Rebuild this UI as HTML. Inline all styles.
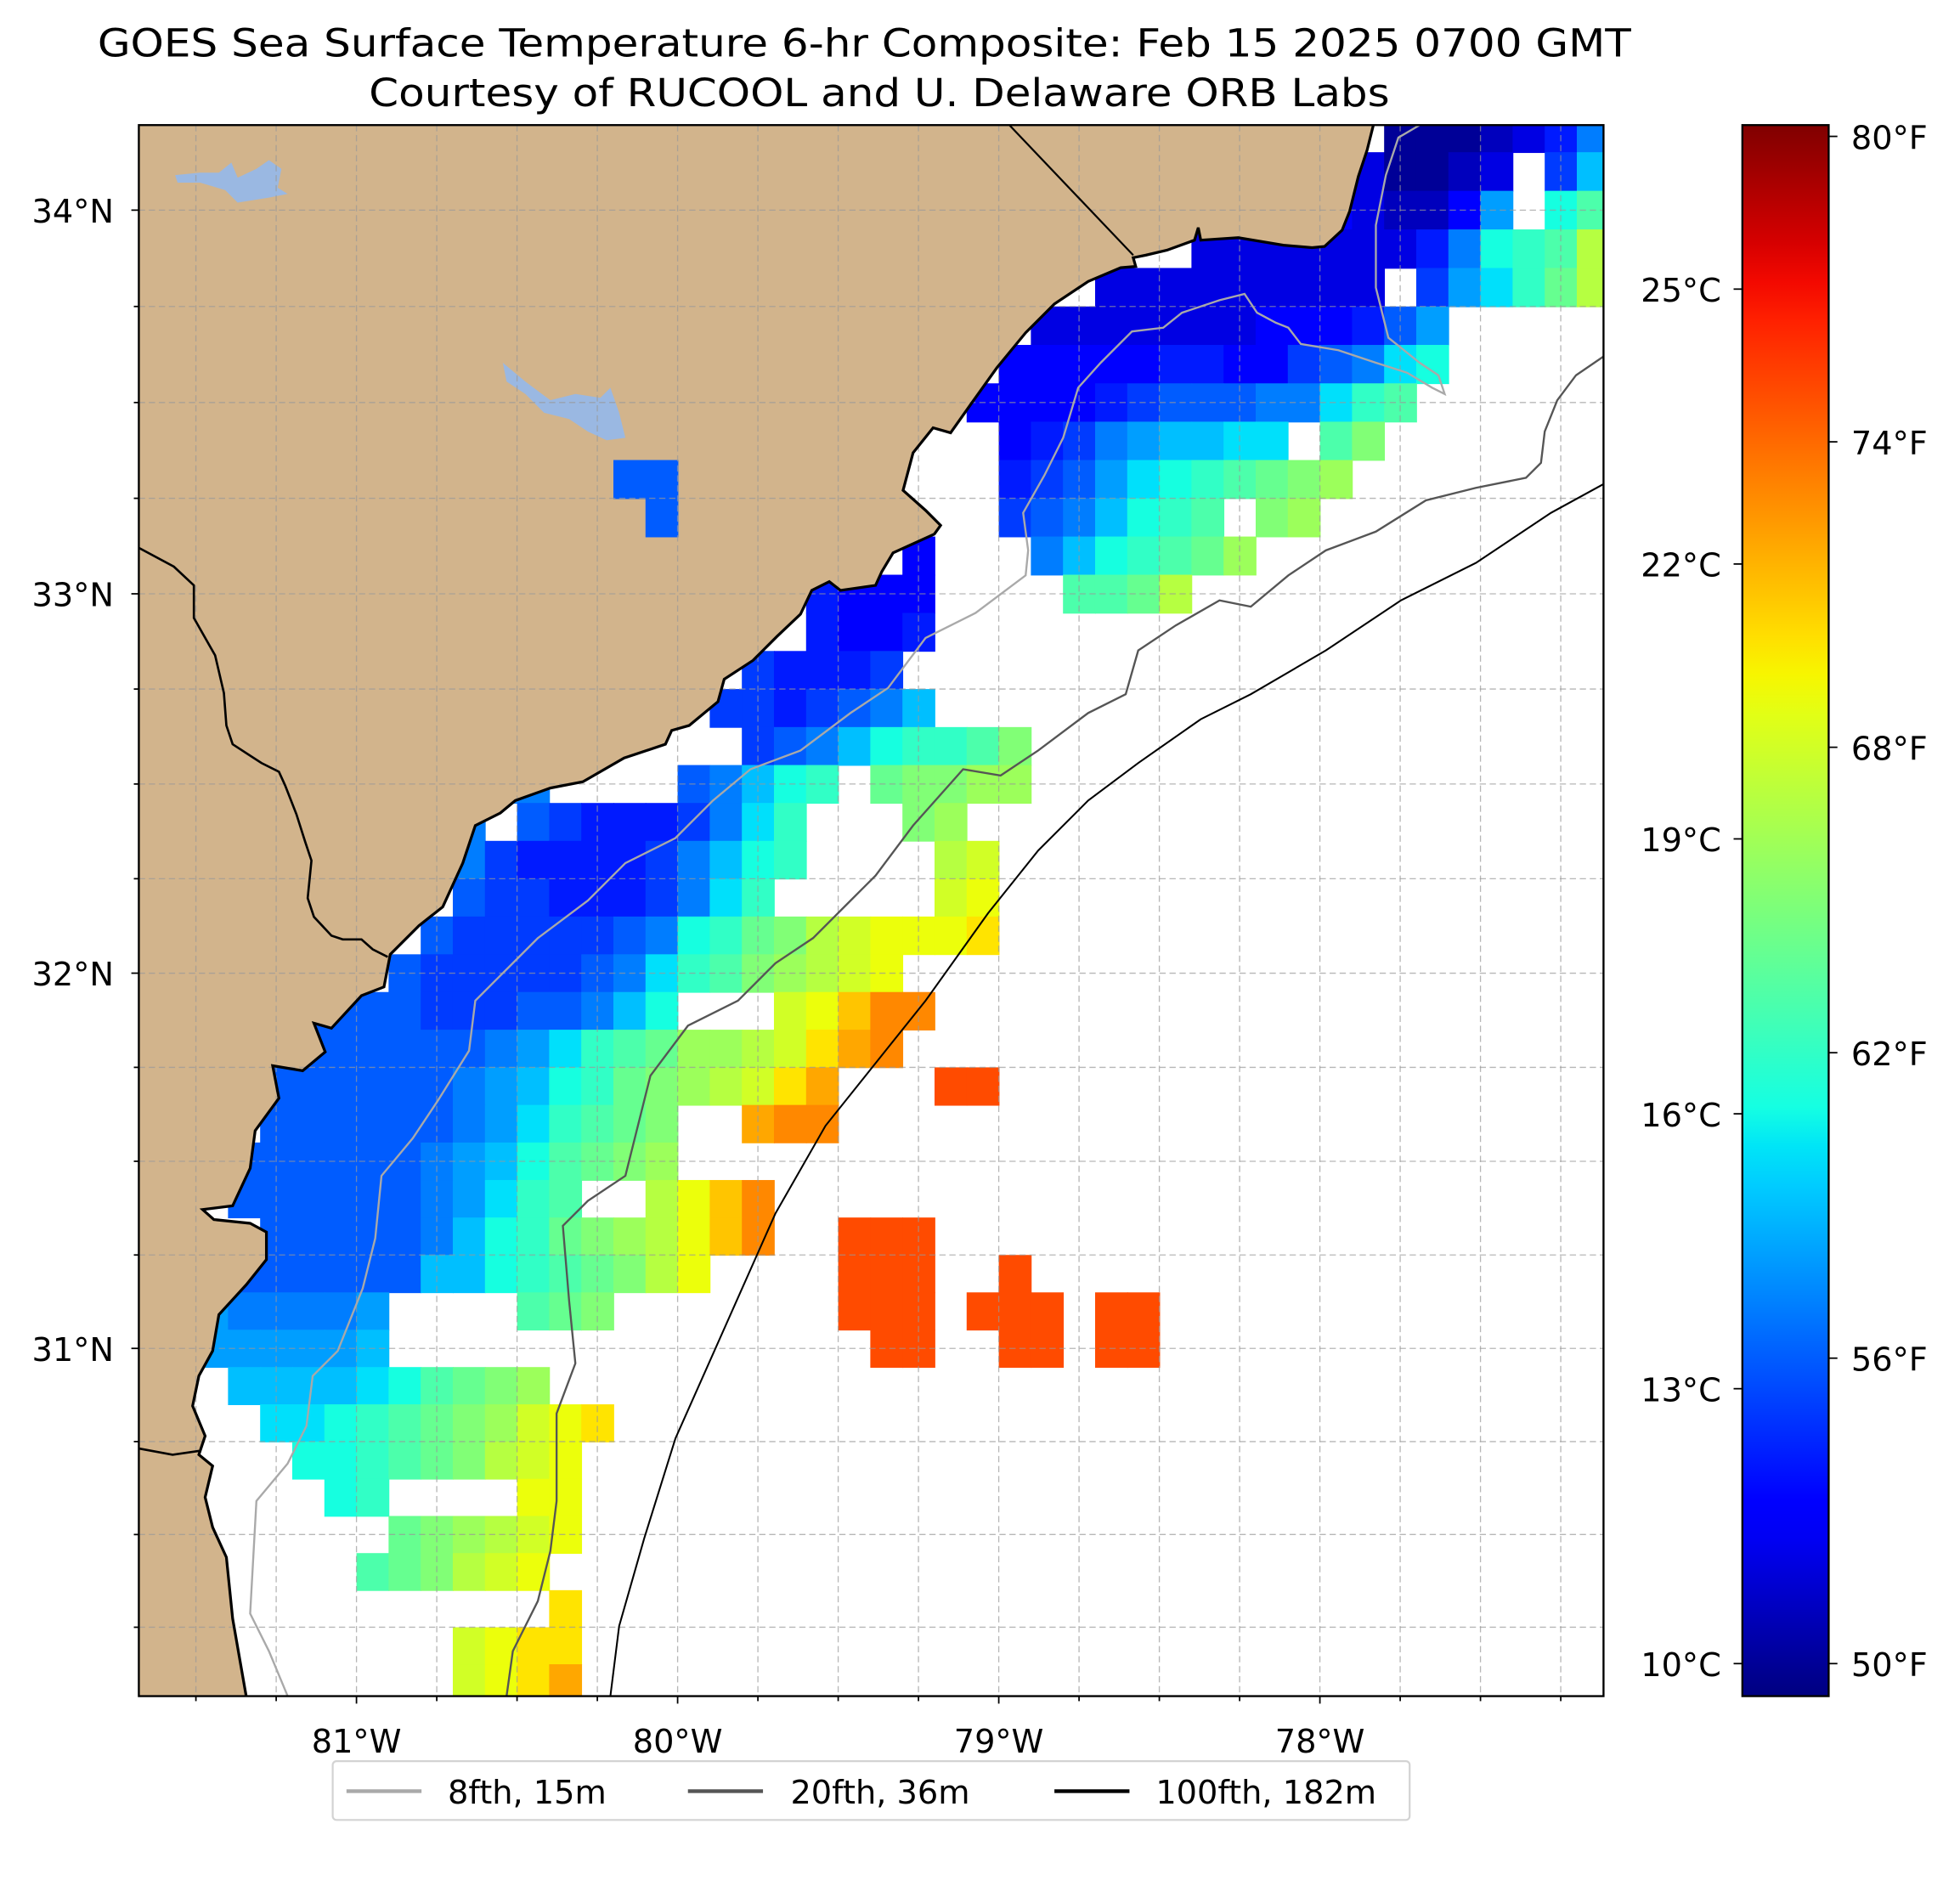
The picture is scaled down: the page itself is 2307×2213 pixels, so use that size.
<!DOCTYPE html>
<html><head><meta charset="utf-8"><title>GOES SST Composite</title>
<style>html,body{margin:0;padding:0;background:#fff}svg{display:block}text{font-family:"DejaVu Sans","Liberation Sans",sans-serif;fill:#000}</style>
</head><body>
<svg id="fig" xmlns="http://www.w3.org/2000/svg" width="2307" height="2213" viewBox="0 0 1567 1503" preserveAspectRatio="none">
<defs>
<clipPath id="plotclip"><rect x="111" y="100" width="1171" height="1256"/></clipPath>
<linearGradient id="jetgrad" x1="0" y1="1" x2="0" y2="0"></linearGradient>
</defs>
<text x="691" y="45" font-size="31" text-anchor="middle" textLength="1226" lengthAdjust="spacingAndGlyphs">GOES Sea Surface Temperature 6-hr Composite: Feb 15 2025 0700 GMT</text>
<text x="703" y="85" font-size="31" text-anchor="middle" textLength="816" lengthAdjust="spacingAndGlyphs">Courtesy of RUCOOL and U. Delaware ORB Labs</text>
<g id="mapg" clip-path="url(#plotclip)">
<rect x="111" y="100" width="1171" height="1256" fill="#fff"/>
<g id="cells"></g>
<path fill="#d2b48c" stroke="none" d="M111,100 L1098,100 L1093,120 L1086,141 L1079,169 L1073,184 L1059,197 L1049,198 L1026,196 L990,190 L960,192 L958,182 L955,192 L933,200 L916,204 L906,206 L908,213 L896,214 L870,225 L843,243 L820,266 L797,294 L777,322 L760,346 L746,342 L730,362 L722,392 L740,408 L752,420 L747,427 L714,442 L705,457 L700,468 L672,472 L663,465 L649,472 L640,491 L621,509 L602,528 L579,543 L574,561 L551,580 L537,584 L532,595 L499,606 L466,625 L440,630 L412,640 L400,650 L380,660 L370,690 L354,725 L335,740 L312,763 L307,789 L289,796 L265,822 L251,818 L260,841 L242,856 L218,852 L223,878 L204,904 L200,934 L186,964 L162,967 L171,975 L200,978 L213,985 L213,1007 L197,1027 L175,1051 L170,1080 L159,1100 L154,1124 L164,1148 L159,1163 L170,1172 L164,1197 L170,1221 L181,1245 L186,1294 L197,1357 L111,1357 Z"/>
<path fill="#9ab8e2" d="M402,290 L420,305 L440,320 L460,315 L480,318 L488,310 L495,330 L500,350 L485,352 L470,345 L455,335 L435,330 L420,315 L405,305 Z"/>
<path fill="#9ab8e2" d="M140,140 L160,138 L175,138 L185,130 L190,142 L205,135 L215,128 L225,135 L222,150 L230,155 L215,158 L190,162 L180,152 L160,146 L142,146 Z"/>
<g id="inland"></g>
<g id="grid"></g>
<path fill="none" stroke="#000" stroke-width="2.2" d="M1098,100 L1093,120 L1086,141 L1079,169 L1073,184 L1059,197 L1049,198 L1026,196 L990,190 L960,192 L958,182 L955,192 L933,200 L916,204 L906,206 L908,213 L896,214 L870,225 L843,243 L820,266 L797,294 L777,322 L760,346 L746,342 L730,362 L722,392 L740,408 L752,420 L747,427 L714,442 L705,457 L700,468 L672,472 L663,465 L649,472 L640,491 L621,509 L602,528 L579,543 L574,561 L551,580 L537,584 L532,595 L499,606 L466,625 L440,630 L412,640 L400,650 L380,660 L370,690 L354,725 L335,740 L312,763 L307,789 L289,796 L265,822 L251,818 L260,841 L242,856 L218,852 L223,878 L204,904 L200,934 L186,964 L162,967 L171,975 L200,978 L213,985 L213,1007 L197,1027 L175,1051 L170,1080 L159,1100 L154,1124 L164,1148 L159,1163 L170,1172 L164,1197 L170,1221 L181,1245 L186,1294 L197,1357"/>
<path fill="none" stroke="#000" stroke-width="1.5" d="M807,100 L906,204"/>
<path fill="none" stroke="#000" stroke-width="1.8" d="M111,438 L139,453 L155,468 L155,494 L172,524 L179,554 L181,580 L186,595 L209,610 L223,617 L228,628 L237,651 L244,673 L249,688 L246,718 L251,733 L265,748 L274,751 L289,751 L298,759 L310,765"/>
<path fill="none" stroke="#000" stroke-width="1.8" d="M111,1158 L138,1163 L159,1160"/>
<path fill="none" stroke="#a9a9a9" stroke-width="1.6" d="M230,1356 L215,1320 L200,1290 L205,1200 L230,1170 L245,1140 L250,1100 L270,1080 L290,1030 L300,990 L305,940 L330,910 L350,880 L375,840 L380,800 L400,780 L430,750 L470,720 L500,690 L540,670 L570,640 L600,615 L640,600 L680,570 L710,550 L740,510 L780,490 L820,460 L822,440 L818,410 L835,380 L850,350 L862,310 L880,290 L905,265 L930,262 L945,250 L975,240 L995,235 L1005,250 L1020,258 L1030,262 L1040,275 L1070,280 L1100,290 L1125,298 L1145,310 L1155,315 L1150,300 L1135,290 L1110,270 L1100,230 L1100,180 L1108,140 L1118,110 L1135,100"/>
<path fill="none" stroke="#555" stroke-width="1.6" d="M405,1356 L410,1320 L430,1280 L440,1240 L445,1200 L445,1130 L460,1090 L455,1040 L450,980 L470,960 L500,940 L510,900 L520,860 L550,820 L590,800 L620,770 L650,750 L680,720 L700,700 L730,660 L770,615 L800,620 L830,600 L870,570 L900,555 L910,520 L940,500 L975,480 L1000,485 L1030,460 L1060,440 L1100,425 L1140,400 L1180,390 L1220,382 L1232,370 L1235,345 L1245,320 L1260,300 L1282,285"/>
<path fill="none" stroke="#000" stroke-width="1.4" d="M488,1356 L495,1300 L515,1230 L540,1150 L580,1060 L620,970 L660,900 L700,850 L740,800 L790,730 L830,680 L870,640 L910,610 L960,575 L1000,555 L1060,520 L1120,480 L1180,450 L1240,410 L1282,387"/>
</g>
<rect x="111" y="100" width="1171" height="1256" fill="none" stroke="#000" stroke-width="1.6"/>
<g id="axes"></g>
<g id="cbar"></g>
<g>
<rect x="266" y="1408" width="861" height="47" rx="3" fill="#fff" stroke="#d3d3d3" stroke-width="1.5"/>
<line x1="277" y1="1432" x2="337" y2="1432" stroke="#a9a9a9" stroke-width="3"/>
<text x="358" y="1442" font-size="26">8fth, 15m</text>
<line x1="550" y1="1432" x2="610" y2="1432" stroke="#555" stroke-width="3"/>
<text x="632" y="1442" font-size="26">20fth, 36m</text>
<line x1="843" y1="1432" x2="903" y2="1432" stroke="#000" stroke-width="3"/>
<text x="924" y="1442" font-size="26">100fth, 182m</text>
</g>
</svg>
<script>
// ---- data ----
const lonTicks = [-81, -80, -79, -78];
const latTicks = [34, 33, 32, 31];
const cbarCTicks = [10, 13, 16, 19, 22, 25];
const cbarFTicks = [50, 56, 62, 68, 74, 80];
const gridLon0 = -81.7;   // west edge of first SST column
const gridLat0 = 34.25;   // north edge of first SST row
const gridStep = 0.1;     // degrees per SST cell
// SST rows: [startColumn, codes]; code letter A=50F .. Z=75F
const sstRows = [
 [[39,"AAABCEH"]],
 [[37,"DCAABC"],[44,"FJ"]],
 [[37,"DCBBDI"],[44,"LN"]],
 [[33,"CCCCCCCEHLMNR"]],
 [[30,"CCCCCCCCC"],[40,"FIKMOR"]],
 [[28,"CCCCCCCDDDEGI"]],
 [[27,"DDDDDEEDDFGHKL"]],
 [[26,"DDDDEFGGGHHKMN"]],
 [[27,"DEFHIJJKK"],[37,"NP"]],
 [[27,"EFGIKLMNOPQ"]],
 [[27,"FGHJLMN"],[35,"PQ"]],
 [[24,"D"],[28,"HJLMNOQ"]],
 [[21,"EDDD"],[29,"NNOR"]],
 [[21,"EDDE"]],
 [[19,"FEEEF"]],
 [[18,"FFEFGHJ"]],
 [[19,"FGHJLMMNP"]],
 [[11,"HH"],[17,"GHJLM"],[23,"OPPQQ"]],
 [[9,"HH"],[12,"GFEEEFHKM"],[24,"PQ"]],
 [[10,"HFEEEEFHJLM"],[25,"RS"]],
 [[10,"GFFEEEFHKM"],[25,"ST"]],
 [[9,"GFFFFFGHLMOPRSTTTU"]],
 [[8,"GFFFFFGHKMNPQRST"]],
 [[5,"GGGGFFFGGHJL"],[20,"STVXX"]],
 [[5,"GGGGGGHIKMNOQQRSUWX"]],
 [[4,"GGGGGGHIJLMOPQRSUW"],[25,"ZZ"]],
 [[4,"GGGGGGHIKMNOP"],[19,"WXX"]],
 [[3,"GGGGGGHIJLNOPQ"]],
 [[3,"GGGGGGHIKMN"],[16,"RTVX"]],
 [[4,"GGGGGHJLMOPQRTVX"],[22,"ZZZ"]],
 [[3,"GGGGGGJJLMNOPRT"],[22,"ZZZ"],[27,"Z"]],
 [[2,"IHHHHI"],[12,"NOP"],[22,"ZZZ"],[26,"ZZZ"],[30,"ZZ"]],
 [[2,"IIIIIJ"],[23,"ZZ"],[27,"ZZ"],[30,"ZZ"]],
 [[3,"JJJJKLNOPQ"]],
 [[4,"KKLMNOPQSTU"]],
 [[5,"LLMNOPRST"]],
 [[6,"LM"],[12,"TT"]],
 [[8,"OPQRST"]],
 [[7,"NOPRST"]],
 [[13,"U"]],
 [[10,"STUU"]],
 [[10,"STUW"]]
];
// inland (lake) SST cells: [row, col, code]
const inlandCells = [[9,15,"G"],[9,16,"G"],[10,16,"G"]];

// ---- axis functions ----
const NS = "http://www.w3.org/2000/svg";
function merc(lat){ return Math.log(Math.tan(Math.PI/4 + lat*Math.PI/360)); }
const KY = 910/(merc(34)-merc(31));
function xOf(lon){ return 285 + (lon+81)*256.75; }
function yOf(lat){ return 168 + (merc(34)-merc(lat))*KY; }
const cMin = 9.645, cMax = 26.79;
function cbY(c){ return 1356 - (c-cMin)/(cMax-cMin)*1256; }
function fToC(f){ return (f-32)/1.8; }
function jet(t){
  t = Math.max(0, Math.min(1, t));
  function interp(pts){ for (let i=1;i<pts.length;i++){ if (t<=pts[i][0]){ const a=pts[i-1], b=pts[i]; return a[1]+(b[1]-a[1])*(t-a[0])/(b[0]-a[0]); } } return pts[pts.length-1][1]; }
  const r = interp([[0,0],[0.35,0],[0.66,1],[0.89,1],[1,0.5]]);
  const g = interp([[0,0],[0.125,0],[0.375,1],[0.64,1],[0.91,0],[1,0]]);
  const b = interp([[0,0.5],[0.11,1],[0.34,1],[0.65,0],[1,0]]);
  return "rgb("+Math.round(r*255)+","+Math.round(g*255)+","+Math.round(b*255)+")";
}
function codeToF(ch){ const k = ch.charCodeAt(0); return k>=97 ? 76+(k-97) : 50+(k-65); }
function colorOfF(f){ return jet((fToC(f)-cMin)/(cMax-cMin)); }
function mk(tag, attrs, parent){ const e=document.createElementNS(NS,tag); for (const k in attrs) e.setAttribute(k, attrs[k]); parent.appendChild(e); return e; }

function drawCell(parent, r, c, ch){
  const lonW = gridLon0 + c*gridStep, lonE = lonW + gridStep;
  const latN = gridLat0 - r*gridStep, latS = latN - gridStep;
  const x0 = xOf(lonW), x1 = xOf(lonE), y0 = yOf(latN), y1 = yOf(latS);
  const el = mk("rect", {x:x0.toFixed(2), y:y0.toFixed(2), width:(x1-x0+0.6).toFixed(2), height:(y1-y0+0.6).toFixed(2), fill:colorOfF(codeToF(ch))}, parent);
  
  
}
const cellsG = document.getElementById("cells");
sstRows.forEach(function(segs, r){
  segs.forEach(function(seg){
    const start = seg[0], codes = seg[1];
    for (let i=0;i<codes.length;i++){ if (codes[i] !== ".") drawCell(cellsG, r, start+i, codes[i]); }
  });
});
const inlandG = document.getElementById("inland");
inlandCells.forEach(function(d){ drawCell(inlandG, d[0], d[1], d[2]); });

// gridlines every 0.25 deg
const gridG = document.getElementById("grid");
for (let lon=-81.75; lon<=-77; lon+=0.25){
  const x = xOf(lon); if (x<111||x>1282) continue;
  const l = mk("line", {x1:x, y1:100, x2:x, y2:1356, stroke:"#999", "stroke-opacity":"0.7", "stroke-width":"0.9", "stroke-dasharray":"5,3"}, gridG);
  
  
}
for (let lat=30; lat<=34.5; lat+=0.25){
  const y = yOf(lat); if (y<100||y>1356) continue;
  const l = mk("line", {x1:111, y1:y, x2:1282, y2:y, stroke:"#999", "stroke-opacity":"0.7", "stroke-width":"0.9", "stroke-dasharray":"5,3"}, gridG);
  
  
}

// axes ticks
const axG = document.getElementById("axes");
for (let lon=-81.75; lon<=-77; lon+=0.25){
  const x = xOf(lon); if (x<112||x>1281) continue;
  const major = Math.abs(lon-Math.round(lon))<1e-6;
  const t = mk("line", {x1:x, y1:1356, x2:x, y2:1356+(major?6:4), stroke:"#000", "stroke-width":"1.2"}, axG);
  
  
}
for (let lat=30; lat<=34.5; lat+=0.25){
  const y = yOf(lat); if (y<101||y>1355) continue;
  const major = Math.abs(lat-Math.round(lat))<1e-6;
  const t = mk("line", {x1:111-(major?6:4), y1:y, x2:111, y2:y, stroke:"#000", "stroke-width":"1.2"}, axG);
  
  
}
lonTicks.forEach(function(lon){
  const tx = mk("text", {x:xOf(lon), y:1401, "font-size":"26", "text-anchor":"middle"}, axG);
  tx.textContent = Math.abs(lon)+"°W";
  
  
});
latTicks.forEach(function(lat){
  const tx = mk("text", {x:91, y:yOf(lat)+10, "font-size":"26", "text-anchor":"end"}, axG);
  tx.textContent = lat+"°N";
  
  
});

// colorbar
const grad = document.getElementById("jetgrad");
for (let i=0;i<=40;i++){
  const s = document.createElementNS(NS,"stop");
  s.setAttribute("offset", (i/40).toFixed(3));
  s.setAttribute("stop-color", jet(i/40));
  grad.appendChild(s);
}
const cbG = document.getElementById("cbar");
const cbRect = mk("rect", {x:1393, y:100, width:69, height:1256, fill:"url(#jetgrad)", stroke:"#000", "stroke-width":"1.6"}, cbG);


cbarCTicks.forEach(function(c){
  const y = cbY(c);
  const t = mk("line", {x1:1386, y1:y, x2:1393, y2:y, stroke:"#000", "stroke-width":"1.2"}, cbG);
  
  
  const tx = mk("text", {x:1376, y:y+10, "font-size":"26", "text-anchor":"end"}, cbG);
  tx.textContent = c+"°C";
  
  
});
cbarFTicks.forEach(function(f){
  const y = cbY(fToC(f));
  const t = mk("line", {x1:1462, y1:y, x2:1469, y2:y, stroke:"#000", "stroke-width":"1.2"}, cbG);
  
  
  const tx = mk("text", {x:1480, y:y+10, "font-size":"26", "text-anchor":"start"}, cbG);
  tx.textContent = f+"°F";
  
  
});
</script>
</body></html>
